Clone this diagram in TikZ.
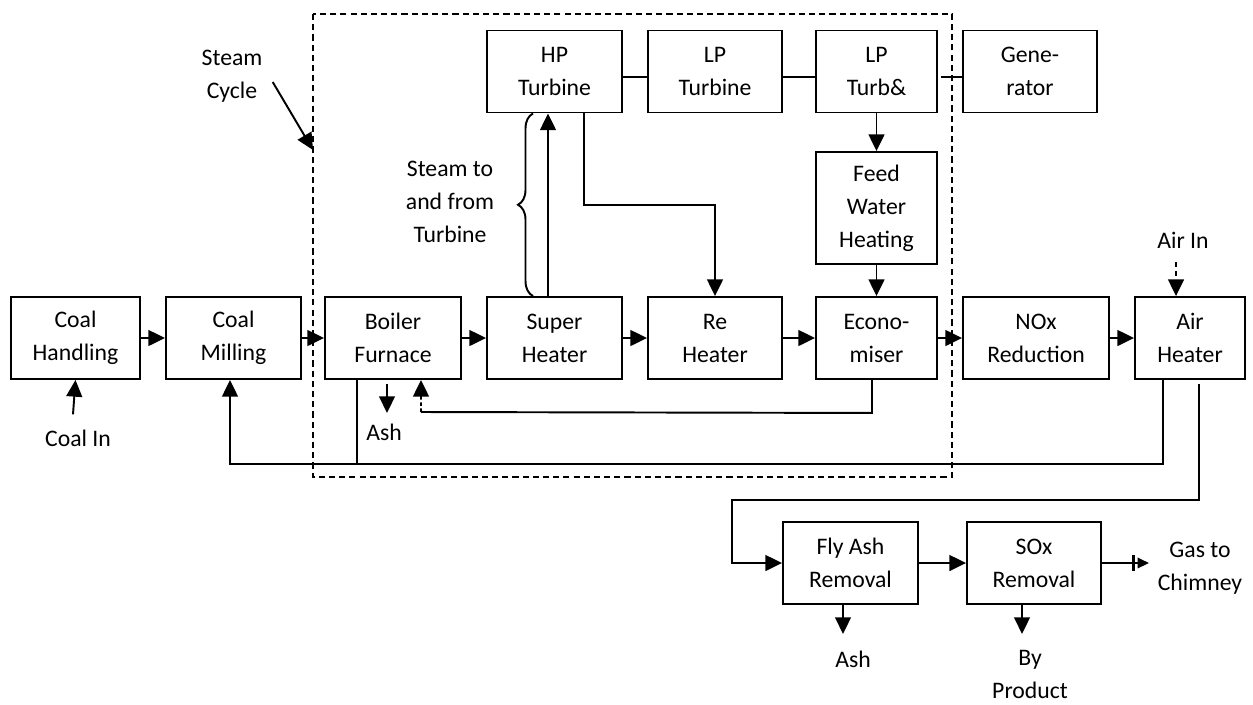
\documentclass[tikz,border=0pt]{standalone}
\usepackage{fontspec}
\setmainfont{Carlito}
\usepackage{tikz}
\usetikzlibrary{arrows.meta,calc,decorations.pathreplacing,positioning}
\tikzset{%
	block/.style    = {draw, rectangle, line width=1.1pt, minimum height=1.64cm, inner sep=0pt, align=center, font=\fontsize{13.5pt}{18.8pt}\selectfont},
	lbl/.style      = {inner sep=0pt, align=center, font=\fontsize{13.5pt}{18.8pt}\selectfont},
	flow/.style     = {line width=1.1pt, -{Triangle[length=9.5pt,width=9pt]}},
	link/.style     = {line width=1.1pt},
	cyclebox/.style = {line width=0.9pt, dash pattern=on 3.5pt off 2.3pt},
}

\begin{document}
\begin{tikzpicture}[x=0.02cm, y=-0.02cm]
	\useasboundingbox (0,0) rectangle (1253,704);
	
	% steam cycle boundary
	\draw[cyclebox] (313,14) rectangle (952,477);
	\coordinate (sctip) at (313,150);
	
	% main gas path
	\node[block, minimum width=2.58cm] (ch)  at (75.5,338)  {Coal\\Handling};
	\node[block, minimum width=2.70cm] (cm)  at (233.5,338) {Coal\\Milling};
	\node[block, minimum width=2.72cm] (bf)  at (393,338)   {Boiler\\Furnace};
	\node[block, minimum width=2.70cm] (sh)  at (554.5,338) {Super\\Heater};
	\node[block, minimum width=2.68cm] (rh)  at (715,338)   {Re\\Heater};
	\node[block, minimum width=2.42cm] (ec)  at (876.5,338) {Econo-\\miser};
	\node[block, minimum width=2.92cm] (nox) at (1036,338)  {NOx\\Reduction};
	\node[block, minimum width=2.20cm] (ah)  at (1190,338)  {Air\\Heater};
	
	% turbines
	\node[block, minimum width=2.70cm] (hp)  at (554.5,71.5) {HP\\Turbine};
	\node[block, minimum width=2.68cm] (lp)  at (715,71.5)   {LP\\Turbine};
	\node[block, minimum width=2.42cm] (lpt) at (876.5,71.5) {LP\\Turb\&};
	\node[block, minimum width=2.68cm] (gen) at (1030,71.5)  {Gene-\\rator};
	\node[block, minimum width=2.42cm, minimum height=2.24cm] (fwh) at (876.5,208) {Feed\\Water\\Heating};
	
	% flue gas cleaning
	\node[block, minimum width=2.70cm] (fly) at (850.5,563) {Fly Ash\\Removal};
	\node[block, minimum width=2.68cm] (sox) at (1034,563)  {SOx\\Removal};
	
	% labels
	\node[lbl] (sc)     at (232,76)    {Steam\\Cycle};
	\node[lbl] (stt)    at (450,202)   {Steam to\\and from\\Turbine};
	\node[lbl] (coalin) at (78,438)    {Coal In};
	\node[lbl] (ash1)   at (384,432)   {Ash};
	\node[lbl] (airin)  at (1183,240)  {Air In};
	\node[lbl] (ash2)   at (853,659)   {Ash};
	\node[lbl] (byp)    at (1030,674)  {By\\Product};
	\node[lbl] (gas)    at (1200,568)  {Gas to\\Chimney};
	
	\draw[flow] ([xshift=.2cm,yshift=-.12cm]sc.east) -- (sctip);
	
	\foreach \a/\b in {ch/cm,cm/bf,bf/sh,sh/rh,rh/ec,ec/nox,nox/ah,fly/sox}
		\draw[flow] (\a) -- (\b);
	
	\draw[flow] ([xshift=-.1cm,yshift=.3cm]coalin.north) -- (ch.south);
	\draw[flow, dash pattern=on 3pt off 2pt] ([xshift=-.28cm,yshift=.68cm]ah.north) -- ([xshift=-.28cm]ah.north);
	
	% steam to and from the turbine
	\draw[flow] ([xshift=-.13cm]sh.north) -- ([xshift=-.13cm]hp.south);
	\draw[link, decorate, decoration={brace, amplitude=0.3cm}] ([xshift=-.43cm]sh.north) -- ([xshift=-.43cm]hp.south);
	\draw[flow] ([xshift=.59cm]hp.south) |- ($(hp.south)!.5!(rh.north)$) -| (rh.north);
	\draw[link] ([yshift=-.11cm]hp.east) -- ([yshift=-.11cm]lp.west);
	\draw[link] ([yshift=-.11cm]lp.east) -- ([yshift=-.11cm]lpt.west);
	\draw[link] ([xshift=.06cm,yshift=-.11cm]lpt.east) -- ([yshift=-.11cm]gen.west);
	\draw[flow] (lpt.south) -- (fwh.north);
	\draw[flow] (fwh.south) -- (ec.north);
	
	% returns below the boiler
	\coordinate (ecret) at (421,412);
	\draw[link] ([xshift=-.09cm]ec.south) -- ++(0,33) -- (ecret);
	\draw[flow, dash pattern=on 2pt off 1.5pt] (ecret) -- ([xshift=.56cm]bf.south);
	\draw[flow] ([xshift=-.12cm,yshift=-.08cm]bf.south) -- ++(0,29);
	\draw[flow] ([xshift=-.54cm]ah.south) -- ++(0,84) -| ([xshift=-.07cm]cm.south);
	\draw[link] ([xshift=-.72cm]bf.south) -- ++(0,84);
	
	% to the chimney
	\draw[flow] ([xshift=.18cm,yshift=-.08cm]ah.south) |- ([xshift=-1cm,yshift=1.26cm]fly.west) |- (fly.west);
	\draw[flow] ([xshift=-.15cm]fly.south) -- ++(0,29);
	\draw[flow] ([xshift=-.24cm]sox.south) -- ++(0,29);
	\draw[line width=1pt, -{Bar[width=9pt,line width=1.4pt,sep=1.5pt] Triangle[length=6.5pt,width=6pt]}] (sox.east) -- ++(47,0);
\end{tikzpicture}
\end{document}
